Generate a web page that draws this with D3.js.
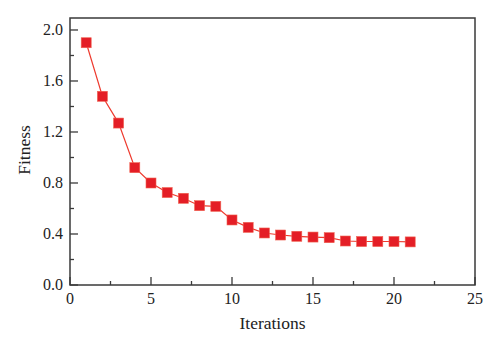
<!DOCTYPE html>
<html><head><meta charset="utf-8">
<script src="https://cdn.jsdelivr.net/npm/d3@7"></script>
<style>body{margin:0;background:#fff}svg{display:block}</style>
</head><body>
<script>
const iterations = [1,2,3,4,5,6,7,8,9,10,11,12,13,14,15,16,17,18,19,20,21];
const fitness = [1.90,1.48,1.27,0.92,0.80,0.725,0.68,0.622,0.617,0.51,0.452,0.408,0.392,0.382,0.376,0.371,0.345,0.341,0.341,0.341,0.338];
const xTicks = [0,5,10,15,20,25];
const yTicks = [0.0,0.4,0.8,1.2,1.6,2.0];

const W=500,H=348;
const m={l:70,r:25,t:18,b:63};
const svg=d3.select("body").append("svg").attr("width",W).attr("height",H);
const x=d3.scaleLinear().domain([0,25]).range([m.l,W-m.r]);
const y=d3.scaleLinear().domain([0,2.094]).range([H-m.b,m.t]);
const font="'Liberation Serif', 'Times New Roman', serif";
const axisCol="#3a3a3a";

// frame
svg.append("rect").attr("x",m.l).attr("y",m.t).attr("width",W-m.r-m.l).attr("height",H-m.b-m.t)
  .attr("fill","none").attr("stroke",axisCol).attr("stroke-width",1.5);

// x axis ticks (inward)
const xMinor=d3.range(2.5,25,5);
const gx=svg.append("g");
gx.selectAll(".maj").data(xTicks).join("line").attr("x1",d=>x(d)).attr("x2",d=>x(d))
  .attr("y1",y(0)).attr("y2",y(0)-8).attr("stroke",axisCol).attr("stroke-width",1.3);
gx.selectAll(".min").data(xMinor).join("line").attr("x1",d=>x(d)).attr("x2",d=>x(d))
  .attr("y1",y(0)).attr("y2",y(0)-4).attr("stroke",axisCol).attr("stroke-width",1.3);
gx.selectAll("text").data(xTicks).join("text").attr("x",d=>x(d)).attr("y",y(0)+19)
  .attr("text-anchor","middle").attr("font-family",font).attr("font-size",16).attr("fill","#222")
  .text(d=>d);

// y axis ticks
const yMinor=d3.range(0.2,2.05,0.4);
const gy=svg.append("g");
gy.selectAll(".maj").data(yTicks).join("line").attr("x1",x(0)).attr("x2",x(0)+8)
  .attr("y1",d=>y(d)).attr("y2",d=>y(d)).attr("stroke",axisCol).attr("stroke-width",1.3);
gy.selectAll(".min").data(yMinor).join("line").attr("x1",x(0)).attr("x2",x(0)+4)
  .attr("y1",d=>y(d)).attr("y2",d=>y(d)).attr("stroke",axisCol).attr("stroke-width",1.3);
gy.selectAll("text").data(yTicks).join("text").attr("x",x(0)-7).attr("y",d=>y(d)+5)
  .attr("text-anchor","end").attr("font-family",font).attr("font-size",16).attr("fill","#222")
  .text(d=>d.toFixed(1));

// titles
svg.append("text").attr("x",(m.l+W-m.r)/2).attr("y",329).attr("text-anchor","middle")
  .attr("font-family",font).attr("font-size",17.5).attr("fill","#222").text("Iterations");
svg.append("text").attr("transform",`translate(30,150) rotate(-90)`).attr("text-anchor","middle")
  .attr("font-family",font).attr("font-size",17.5).attr("fill","#222").text("Fitness");

// line
const data=iterations.map((d,i)=>({x:d,y:fitness[i]}));
svg.append("path").datum(data).attr("fill","none").attr("stroke","#ee3a2e").attr("stroke-width",1.2)
  .attr("d",d3.line().x(d=>x(d.x)).y(d=>y(d.y)));
svg.selectAll(".pt").data(data).join("rect").attr("x",d=>x(d.x)-5).attr("y",d=>y(d.y)-5)
  .attr("width",10).attr("height",10).attr("fill","#e41e26").attr("stroke","#f06050").attr("stroke-width",0.6);
</script>
</body></html>
